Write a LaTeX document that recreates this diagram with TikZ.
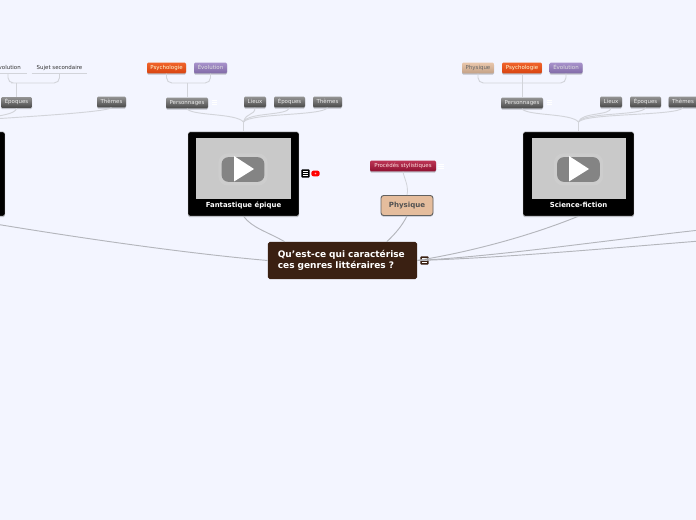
\documentclass[tikz,border=0pt]{standalone}
\usepackage{fontspec}
\setmainfont{DejaVu Sans}
\usetikzlibrary{shadows}

\definecolor{pagebg}{HTML}{F3F5FF}
\definecolor{linkgrey}{HTML}{B4B6BC}
\definecolor{softgrey}{HTML}{D2D4DA}
\definecolor{rootbrown}{HTML}{3A2012}
\definecolor{tanfill}{HTML}{E5BD9D}
\definecolor{thumbgrey}{HTML}{C9C9C9}
\definecolor{playgrey}{HTML}{848484}
\definecolor{purpletop}{HTML}{A893CC}
\definecolor{purplelow}{HTML}{8069A6}
\definecolor{orangetop}{HTML}{F0642C}
\definecolor{orangelow}{HTML}{D8430F}
\definecolor{crimsontop}{HTML}{BC3555}
\definecolor{crimsonlow}{HTML}{8E1030}

\tikzset{
    smalltext/.style={font=\fontsize{4.1}{5}\selectfont,text height=3.1pt,text depth=.9pt},
    softshadow/.style={drop shadow={shadow xshift=0pt,shadow yshift=-0.9pt,opacity=.22,fill=black}},
    gradbox/.style={rectangle,rounded corners=1pt,inner sep=0pt,smalltext,softshadow,minimum height=8.2pt},
    greybox/.style={gradbox,top color=black!42,bottom color=black!72,text=white!92!black,minimum width=#1*0.75pt},
    orangebox/.style={gradbox,top color=orangetop,bottom color=orangelow,text=white!85!yellow,minimum width=#1*0.75pt},
    purplebox/.style={gradbox,top color=purpletop,bottom color=purplelow,text=white!88!black,minimum width=#1*0.75pt},
    tanbox/.style={gradbox,top color=tanfill!85!white,bottom color=tanfill!85!black,text=black!60,minimum width=#1*0.75pt},
    crimsonbox/.style={gradbox,top color=crimsontop,bottom color=crimsonlow,text=white!88!red,minimum width=#1*0.75pt},
    plainchild/.style={rectangle,inner sep=0pt,smalltext,text=black!80,minimum height=8.2pt,minimum width=#1*0.75pt,
        append after command={(\tikzlastnode.south west) edge[softgrey,line width=.6pt] (\tikzlastnode.south east)}},
    videobox/.style={rectangle,rounded corners=1.2pt,fill=black,draw=white!80!black,line width=.3pt,softshadow,
        minimum width=83.2pt,minimum height=63pt,inner sep=0pt},
    thumbbox/.style={rectangle,fill=thumbgrey,minimum width=71.2pt,minimum height=45.8pt,inner sep=0pt},
    glowbox/.style={rectangle,rounded corners=7pt,fill=white!8!thumbgrey,minimum width=37pt,minimum height=24pt,inner sep=0pt},
    playbox/.style={rectangle,rounded corners=5pt,fill=playgrey,minimum width=32pt,minimum height=18.5pt,inner sep=0pt},
    videotext/.style={text=white,font=\fontsize{5.2}{6}\selectfont\bfseries,inner sep=0pt},
    notebox/.style={rectangle,rounded corners=.6pt,fill=#1,minimum size=6.2pt,inner sep=0pt,
        path picture={\foreach \yy in {-1.6pt,0pt,1.6pt}
            \draw[white,line width=.5pt] ([xshift=1.2pt,yshift=\yy]path picture bounding box.west) -- ([xshift=-1.2pt,yshift=\yy]path picture bounding box.east);}},
    whitenote/.style={rectangle,minimum size=6pt,inner sep=0pt,
        path picture={\foreach \yy in {-1.6pt,0pt,1.6pt}
            \draw[white,line width=.5pt] ([xshift=1pt,yshift=\yy]path picture bounding box.west) -- ([xshift=-1pt,yshift=\yy]path picture bounding box.east);}},
    redbadge/.style={rectangle,rounded corners=1.5pt,fill=red,minimum width=6.2pt,minimum height=4.2pt,inner sep=0pt},
    link/.style={linkgrey,line width=.7pt},
    branch/.style={softgrey,line width=.7pt},
    bracket/.style={softgrey,line width=.7pt,rounded corners=4pt},
}

\begin{document}
\begin{tikzpicture}[x=0.75pt,y=-0.75pt]
    \useasboundingbox[fill=pagebg] (0,0) rectangle (696,520);

    % central topics
    \node[rectangle,rounded corners=1.2pt,fill=rootbrown,text=white,minimum width=111.8pt,minimum height=27.8pt,
        inner sep=0pt,align=left,text width=97pt,font=\fontsize{6.75}{8.7}\selectfont\bfseries] (root) at (342.5,260.5)
        {Qu{\char"27}est-ce qui caractérise\\ces genres littéraires ?};
    \node[notebox=rootbrown] (rootnote) at (424.5,260.5) {};
    \node[rectangle,rounded corners=2pt,fill=tanfill,draw=black!62,line width=.7pt,text=black!68,softshadow,
        minimum width=39pt,minimum height=15pt,inner sep=0pt,font=\fontsize{5.3}{6}\selectfont\bfseries] (phys) at (407,205.5) {Physique};
    \node[crimsonbox=66] (proc) at (403,166) {Procédés stylistiques};
    \node[whitenote] (procnote) at (441,166) {};

    % videos
    \node[videobox] (vidL) at (-50.5,174) {};

    \node[videobox] (vidF) at (243.5,174) {};
    \node[thumbbox] (thumbF) at (243.5,168.5) {};
    \node[glowbox] (glowF) at (243,169.5) {};
    \node[playbox] (playF) at (243,169.5) {};
    \node[videotext] (textF) at (243.5,205) {Fantastique épique};
    \fill[white] (234,156) -- (254,169) -- (234,181.5) -- cycle;
    \node[notebox=black] (noteF) at (305.5,173.5) {};
    \node[redbadge] (tubeF) at (315.5,173.5) {};
    \fill[white!70!red] (tubeF.center) circle (.7pt);

    \node[videobox] (vidS) at (578.5,174) {};
    \node[thumbbox] (thumbS) at (579,168.5) {};
    \node[glowbox] (glowS) at (578.5,169.5) {};
    \node[playbox] (playS) at (578.5,169.5) {};
    \node[videotext] (textS) at (578.5,205) {Science-fiction};
    \fill[white] (569,156) -- (589,169) -- (569,181.5) -- cycle;

    % left group
    \node[greybox=31] (epoqL) at (16.5,102.5) {Époques};
    \node[greybox=29] (themL) at (111.5,102) {Thèmes};
    \node[plainchild=38] (evolL) at (8,68) {Évolution};
    \node[plainchild=55] (sujetL) at (59.5,68) {Sujet secondaire};

    % middle group
    \node[greybox=42] (persF) at (187,103) {Personnages};
    \node[whitenote] (noteP) at (214.5,102.5) {};
    \node[greybox=22] (lieuF) at (255,102) {Lieux};
    \node[greybox=31] (epoqF) at (289.5,102) {Époques};
    \node[greybox=29] (themF) at (327.5,102) {Thèmes};
    \node[orangebox=39] (psychF) at (166.5,68) {Psychologie};
    \node[purplebox=33] (evolF) at (210.5,68) {Évolution};

    % right group
    \node[greybox=42] (persS) at (522,103) {Personnages};
    \node[whitenote] (noteS) at (549.5,102.5) {};
    \node[greybox=22] (lieuS) at (611,102) {Lieux};
    \node[greybox=31] (epoqS) at (645.5,102) {Époques};
    \node[greybox=29] (themS) at (683,102) {Thèmes};
    \node[tanbox=32] (physS) at (478,68) {Physique};
    \node[orangebox=40] (psychS) at (522,68) {Psychologie};
    \node[purplebox=33] (evolS) at (566,68) {Évolution};

    \coordinate (joinL) at (-50.5,122);
    \coordinate (joinF) at (243.5,122);
    \coordinate (joinS) at (578.5,122);
    \coordinate (kidsL) at (16.5,83);
    \coordinate (kidsF) at (187,83);
    \coordinate (kidsS) at (522,83);
    \coordinate (outA) at (700,230);
    \coordinate (outB) at (700,241);

    \draw[link] (root.west) .. controls (170,252) and (40,232) .. (vidL.south);
    \draw[link] (root.162) .. controls (268,232) and (252,228) .. (vidF.south);
    \draw[link] (root.23.5) .. controls (395,234) and (402,226) .. (phys.south);
    \draw[link] (root.east) .. controls (470,252) and (530,236) .. (vidS.south);
    \draw[link] (root.east) .. controls (500,256) and (600,241) .. (outA);
    \draw[link] (root.east) .. controls (500,258) and (600,249) .. (outB);
    \draw[softgrey,line width=.6pt] (phys.north) .. controls (409,186) and (404,178) .. (proc.south);

    \draw[branch] (joinL) -- (vidL.north);
    \draw[branch] (joinF) -- (vidF.north);
    \draw[branch] (joinS) -- (vidS.north);

    \draw[branch] (epoqL.south) .. controls (16,114) and (0,117) .. (joinL);
    \draw[branch] (themL.south) .. controls (104,113) and (0,118) .. (joinL);

    \draw[branch] (persF.south) .. controls (192,116) and (236,113) .. (joinF);
    \draw[branch] (lieuF.south) .. controls (255,116) and (246,112) .. (joinF);
    \draw[branch] (epoqF.south) .. controls (288,116) and (248,112) .. (joinF);
    \draw[branch] (themF.south) .. controls (322,116) and (250,113) .. (joinF);

    \draw[branch] (persS.south) .. controls (527,116) and (571,113) .. (joinS);
    \draw[branch] (lieuS.south) .. controls (611,116) and (581,112) .. (joinS);
    \draw[branch] (epoqS.south) .. controls (643,116) and (583,112) .. (joinS);
    \draw[branch] (themS.south) .. controls (678,116) and (585,113) .. (joinS);

    \draw[branch] (kidsL) -- (epoqL.north);
    \draw[branch] (kidsF) -- (persF.north);
    \draw[branch] (psychS.south) -- (persS.north);

    \draw[bracket] (evolL.south) |- (kidsL) -| (sujetL.south);
    \draw[bracket] (psychF.south) |- (kidsF) -| (evolF.south);
    \draw[bracket] (physS.south) |- (kidsS) -| (evolS.south);
\end{tikzpicture}
\end{document}
